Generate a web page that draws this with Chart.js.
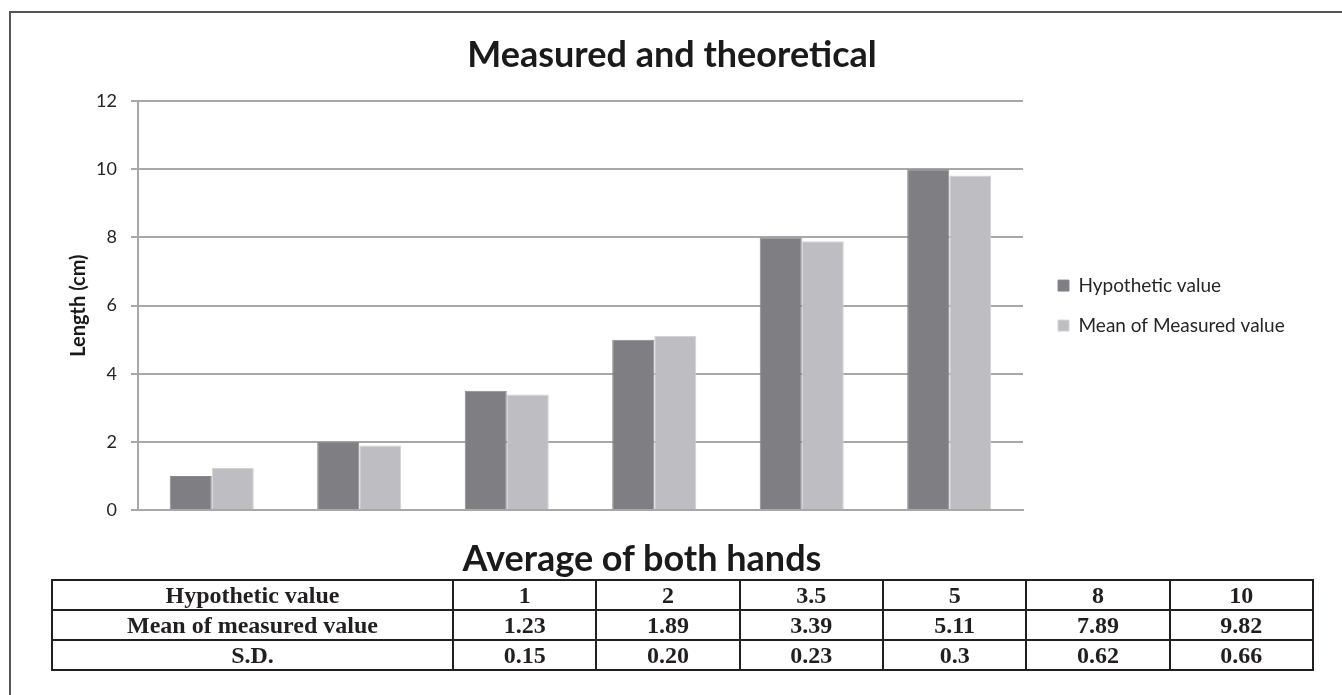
<!DOCTYPE html>
<html>
<head>
<meta charset="utf-8">
<script src="https://cdn.jsdelivr.net/npm/chart.js@4"></script>
<style>
  html, body { margin: 0; padding: 0; background: #fff; }
  body { width: 1342px; height: 695px; position: relative; overflow: hidden; }
  #wrap { position: absolute; left: 0; top: 0; width: 1342px; height: 540px; }
  #frame { position: absolute; left: 9px; top: 11px; right: 0; bottom: 0;
           border-top: 2px solid #555; border-left: 2px solid #555; pointer-events: none; }
  #subTitle { position: absolute; left: 0; width: 1284px; top: 539px; text-align: center;
              font: bold 36px Lato, sans-serif; line-height: 36px; color: #1a1a1a; }
  table { position: absolute; left: 51px; top: 579px; width: 1263px; border-collapse: collapse;
          table-layout: fixed; font: bold 24px "Liberation Serif", "Times New Roman", serif; color: #231f20; }
  td { border: 2px solid #231f20; text-align: center; height: 28px; padding: 0; line-height: 26px; }
</style>
</head>
<body>
<div id="wrap"><canvas id="chart"></canvas></div>
<div id="subTitle">Average of both hands</div>
<table id="tbl"></table>
<div id="frame"></div>
<script>
const categories = ["1", "2", "3.5", "5", "8", "10"];
const seriesNames = ["Hypothetic value", "Mean of Measured value"];
const hypothetic = [1, 2, 3.5, 5, 8, 10];
const measured = [1.23, 1.89, 3.39, 5.11, 7.89, 9.82];
const rowNames = ["Hypothetic value", "Mean of measured value", "S.D."];
const hypoText = ["1", "2", "3.5", "5", "8", "10"];
const meanText = ["1.23", "1.89", "3.39", "5.11", "7.89", "9.82"];
const sdText = ["0.15", "0.20", "0.23", "0.3", "0.62", "0.66"];

// table under the chart
const tbl = document.getElementById("tbl");
let html = '<colgroup><col style="width:401px">' + categories.map(() => '<col>').join('') + '</colgroup>';
[hypoText, meanText, sdText].forEach((row, i) => {
  html += '<tr><td>' + rowNames[i] + '</td>' + row.map(v => '<td>' + v + '</td>').join('') + '</tr>';
});
tbl.innerHTML = html;

const gridGray = "#a8a8a8";
const legendFont = 19, legendPad = 21, boxW = 11, legendGapPx = 14;

// push the legend a bit away from the plot area (excel leaves a gap there)
const legendGap = {
  id: "legendGap",
  afterLayout(chart){
    const l = chart.legend;
    if (l){ l.left += legendGapPx; l.right += legendGapPx; }
  }
};

(async function init(){
  try { await document.fonts.load(legendFont + "px Lato"); await document.fonts.load("bold 36px Lato"); } catch (e) {}

  // size the paddings so the plot spans x=138..1023
  const m = document.createElement("canvas").getContext("2d");
  m.font = "normal " + legendFont + "px Lato";
  const textW = Math.max(...seriesNames.map(s => m.measureText(s).width));
  const legendW = legendPad + boxW + legendFont / 2 + textW + 10;
  const padR = Math.max(legendGapPx, 1342 - 1023 - legendW);
  const padL = padR + 2; // keeps the title centred on the page

  new Chart(document.getElementById("chart"), {
    type: "bar",
    data: {
      labels: categories,
      datasets: [
        { label: seriesNames[0], data: hypothetic, backgroundColor: "#7f7f83", borderColor: "#88888b", borderWidth: 1 },
        { label: seriesNames[1], data: measured, backgroundColor: "#bebec2", borderColor: "#d4d4d7", borderWidth: 1 }
      ]
    },
    plugins: [legendGap],
    options: {
      responsive: true, maintainAspectRatio: false, animation: false,
      layout: { padding: { left: padL, right: padR, top: 0, bottom: 0 } },
      datasets: { bar: { categoryPercentage: 0.57, barPercentage: 1.0 } },
      plugins: {
        title: {
          display: true, text: "Measured and theoretical", color: "#1a1a1a",
          font: { family: "Lato", weight: "bold", size: 36 },
          padding: { top: 34, bottom: 24 }
        },
        legend: {
          position: "right", fullSize: false,
          labels: { boxWidth: boxW, boxHeight: boxW, padding: legendPad, color: "#262626",
                    font: { family: "Lato", size: legendFont } }
        },
        tooltip: { enabled: false }
      },
      scales: {
        x: {
          grid: { display: false },
          border: { color: gridGray, width: 2 },
          ticks: { display: false },
          afterFit: s => { s.height = 30; }
        },
        y: {
          min: 0, max: 12,
          ticks: { stepSize: 2, padding: 14, color: "#262626", font: { family: "Lato", size: 18 } },
          grid: { color: gridGray, lineWidth: 2, tickLength: 7 },
          border: { color: gridGray, width: 2 },
          title: { display: true, text: "Length (cm)", color: "#1a1a1a",
                   font: { family: "Lato", weight: "bold", size: 20 }, padding: { top: Math.max(0, 79 - padL - 12), bottom: 0 } },
          afterFit: s => { s.width = 138 - padL; }
        }
      }
    }
  });
})();
</script>
</body>
</html>
